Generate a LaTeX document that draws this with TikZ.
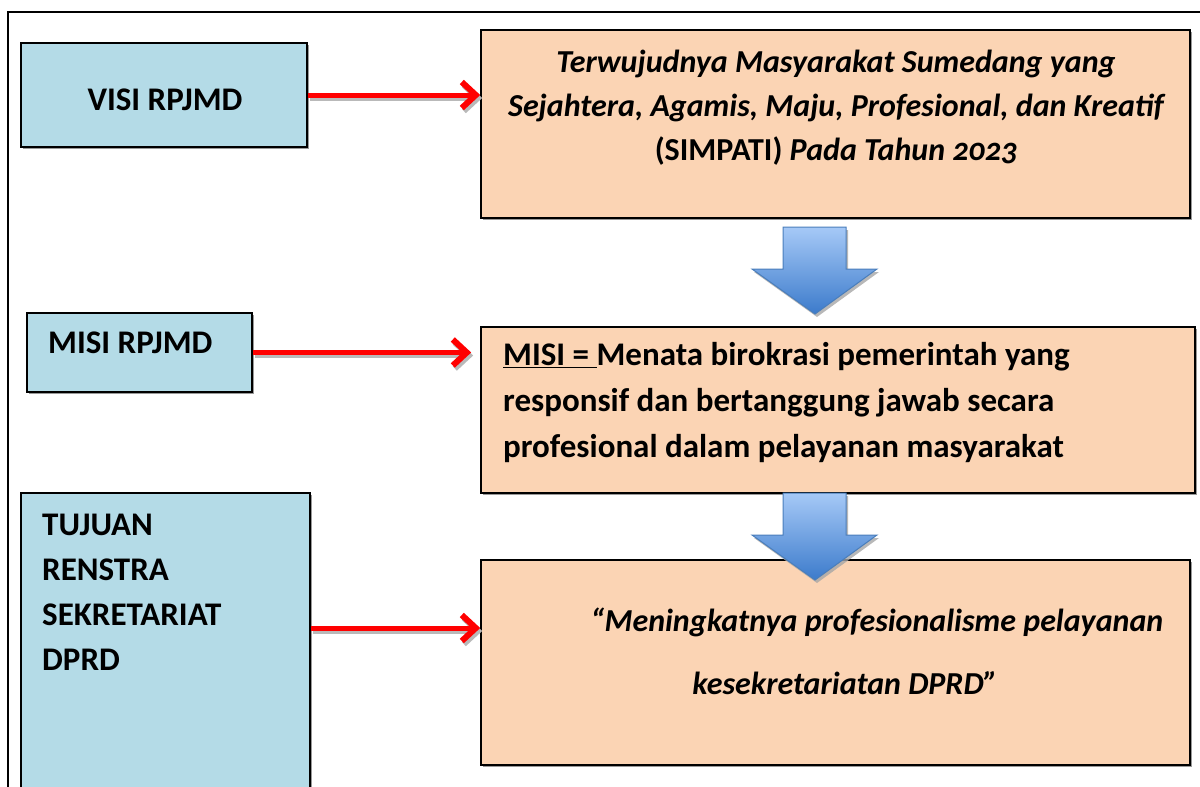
\documentclass[tikz,border=0pt]{standalone}
\usepackage{fontspec}
\setmainfont{Carlito}[Numbers=OldStyle]
\usetikzlibrary{arrows.meta,shadows}
\definecolor{boxblue}{HTML}{B4DBE7}
\definecolor{boxorange}{HTML}{FBD4B4}
\definecolor{arrowtop}{HTML}{A6C9F7}
\definecolor{arrowbot}{HTML}{3C7BCB}
\definecolor{arrowline}{HTML}{4A7EBB}
\tikzset{
  box/.style={draw=black, line width=1.6pt, inner sep=0pt,
    drop shadow={shadow xshift=1.5pt, shadow yshift=-1.5pt, fill=gray!80, opacity=1}},
  bluebox/.style={box, fill=boxblue},
  orangebox/.style={box, fill=boxorange},
  redarrow/.style={draw=red, line width=5pt, -{Straight Barb[length=14pt,width=26pt,line width=6pt]}},
  arrowshadow/.style={redarrow, draw=gray!55, transform canvas={xshift=2pt, yshift=-3pt}},
  downarrow/.style={draw=arrowline, line width=1pt, top color=arrowtop, bottom color=arrowbot,
    drop shadow={shadow xshift=2pt, shadow yshift=-3pt, fill=gray!70, opacity=0.8}},
  txt/.style={inner sep=0pt, font=\bfseries\fontsize{33}{44}\selectfont},
  txtit/.style={inner sep=0pt, font=\bfseries\itshape\fontsize{32}{44}\selectfont}
}
\begin{document}
\begin{tikzpicture}[x=1pt, y=-1pt]
\useasboundingbox (0,0) rectangle (1200,787);
% frame
\draw[line width=1.8pt] (1210,12) -- (8,12) -- (8,800);
% left column
\node[bluebox, minimum width=286pt, minimum height=104pt] (visi) at (164,95) {};
\node[bluebox, minimum width=225pt, minimum height=79pt] (misi) at (139.5,352.5) {};
\node[bluebox, minimum width=289pt, minimum height=327pt] (tujuan) at (165.5,656.5) {};
\node[txt] (visiTxt) at (165,100) {VISI RPJMD};
\node[txt, anchor=west] (misiTxt) at (48,343) {MISI RPJMD};
\node[txt, anchor=west, align=left, font=\bfseries\fontsize{33}{45}\selectfont] (tujuanTxt) at (42,592)
  {TUJUAN\\RENSTRA\\SEKRETARIAT\\DPRD};
% right column
\node[orangebox, minimum width=709pt, minimum height=188pt] (visiBox) at (835.5,124) {};
\node[orangebox, minimum width=714pt, minimum height=166pt] (misiBox) at (838,410) {};
\node[orangebox, minimum width=709pt, minimum height=205pt] (tujuanBox) at (835.5,662.5) {};
\node[txtit, align=center] (visiIsi) at (836,108)
  {Terwujudnya Masyarakat Sumedang yang\\Sejahtera, Agamis, Maju, Profesional, dan Kreatif\\{\upshape(SIMPATI)} Pada Tahun 2023};
\node[txt, anchor=west, align=left, font=\bfseries\fontsize{33}{46}\selectfont] (misiIsi) at (503,403)
  {\underline{MISI =\ }Menata birokrasi pemerintah yang\\responsif dan bertanggung jawab secara\\profesional dalam pelayanan masyarakat};
\node[txtit] (tujuanIsiA) at (877,622) {``Meningkatnya profesionalisme pelayanan};
\node[txtit] (tujuanIsiB) at (845,683) {kesekretariatan DPRD''};
% arrows
\coordinate (a3) at (310,628);
\foreach \s in {arrowshadow, redarrow}{
  \draw[\s] (visi.east) -- (visiBox.west |- visi.east);
  \draw[\s, shorten >=9pt] (misi.east) -- (misiBox.west |- misi.east);
  \draw[\s] (tujuan.east |- a3) -- (tujuanBox.west |- a3);
}
\foreach \t in {227, 493}
  \draw[downarrow] (783,\t) -- (846,\t) -- (846,\t+42) -- (877,\t+42) -- (815,\t+87)
    -- (752,\t+42) -- (783,\t+42) -- cycle;
\end{tikzpicture}
\end{document}
